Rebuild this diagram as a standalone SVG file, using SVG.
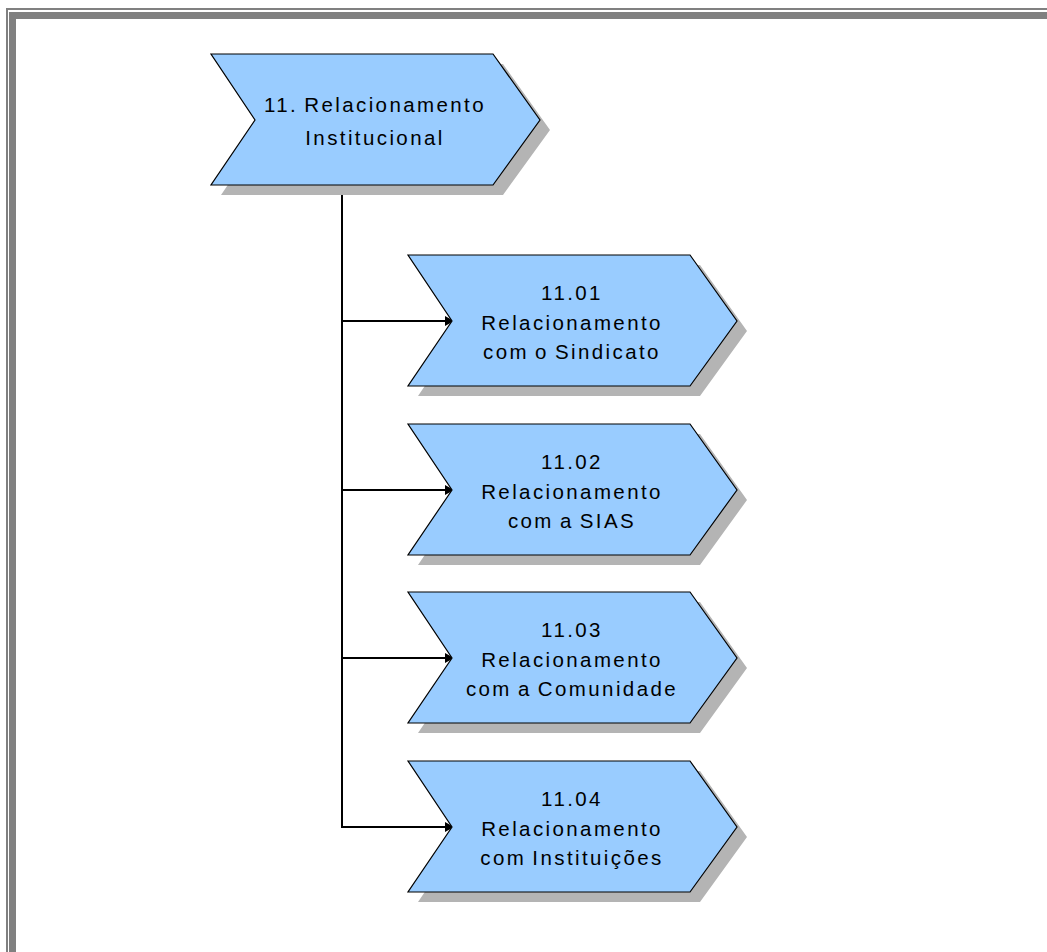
<svg xmlns="http://www.w3.org/2000/svg" width="1047" height="952" viewBox="0 0 1047 952">
  <style>
    .shadow { fill: #b4b4b4; }
    .step { fill: #99ccff; stroke: #000; stroke-width: 1.2; stroke-linejoin: miter; }
    .label { font-family: "Liberation Sans", Arial, sans-serif; font-size: 20.5px; letter-spacing: 2.4px; word-spacing: -2px; fill: #000; text-anchor: middle; }
    .wire { fill: none; stroke: #000; stroke-width: 2; }
    .frame { fill: #808080; }
  </style>
  <defs>
    <!-- chevron step shape, 329 wide, 131 tall -->
    <polygon id="chevron" points="0,0 282,0 329,66 282,131 0,131 44,66"/>
    <marker id="tip" markerWidth="10" markerHeight="12" refX="9" refY="6" orient="auto" markerUnits="userSpaceOnUse">
      <path d="M0,1 L9,6 L0,11 Z" fill="#000"/>
    </marker>
  </defs>

  <rect width="1047" height="952" fill="#fff"/>

  <!-- window frame -->
  <g id="frame">
    <rect class="frame" x="6" y="8" width="1100" height="2"/>
    <rect class="frame" x="6" y="8" width="2" height="1000"/>
    <rect class="frame" x="9" y="12" width="1100" height="7"/>
    <rect class="frame" x="9" y="12" width="7" height="1000"/>
  </g>

  <!-- connectors -->
  <g id="connectors">
    <path class="wire" d="M342,185 V828"/>
    <path class="wire" d="M342,321 H454" marker-end="url(#tip)"/>
    <path class="wire" d="M342,490 H454" marker-end="url(#tip)"/>
    <path class="wire" d="M342,658 H454" marker-end="url(#tip)"/>
    <path class="wire" d="M342,827 H454" marker-end="url(#tip)"/>
  </g>

  <g id="n11">
    <use href="#chevron" class="shadow" x="221" y="64"/>
    <use href="#chevron" class="step" x="211" y="54"/>
    <text class="label" x="375" y="112">11. Relacionamento</text>
    <text class="label" x="375" y="145">Institucional</text>
  </g>

  <g id="n1101">
    <use href="#chevron" class="shadow" x="418" y="265"/>
    <use href="#chevron" class="step" x="408" y="255"/>
    <text class="label" x="572" y="300">11.01</text>
    <text class="label" x="572" y="330">Relacionamento</text>
    <text class="label" x="572" y="359">com o Sindicato</text>
  </g>

  <g id="n1102">
    <use href="#chevron" class="shadow" x="418" y="434"/>
    <use href="#chevron" class="step" x="408" y="424"/>
    <text class="label" x="572" y="469">11.02</text>
    <text class="label" x="572" y="499">Relacionamento</text>
    <text class="label" x="572" y="528">com a SIAS</text>
  </g>

  <g id="n1103">
    <use href="#chevron" class="shadow" x="418" y="602"/>
    <use href="#chevron" class="step" x="408" y="592"/>
    <text class="label" x="572" y="637">11.03</text>
    <text class="label" x="572" y="667">Relacionamento</text>
    <text class="label" x="572" y="696">com a Comunidade</text>
  </g>

  <g id="n1104">
    <use href="#chevron" class="shadow" x="418" y="771"/>
    <use href="#chevron" class="step" x="408" y="761"/>
    <text class="label" x="572" y="806">11.04</text>
    <text class="label" x="572" y="836">Relacionamento</text>
    <text class="label" x="572" y="865">com Instituições</text>
  </g>
</svg>
